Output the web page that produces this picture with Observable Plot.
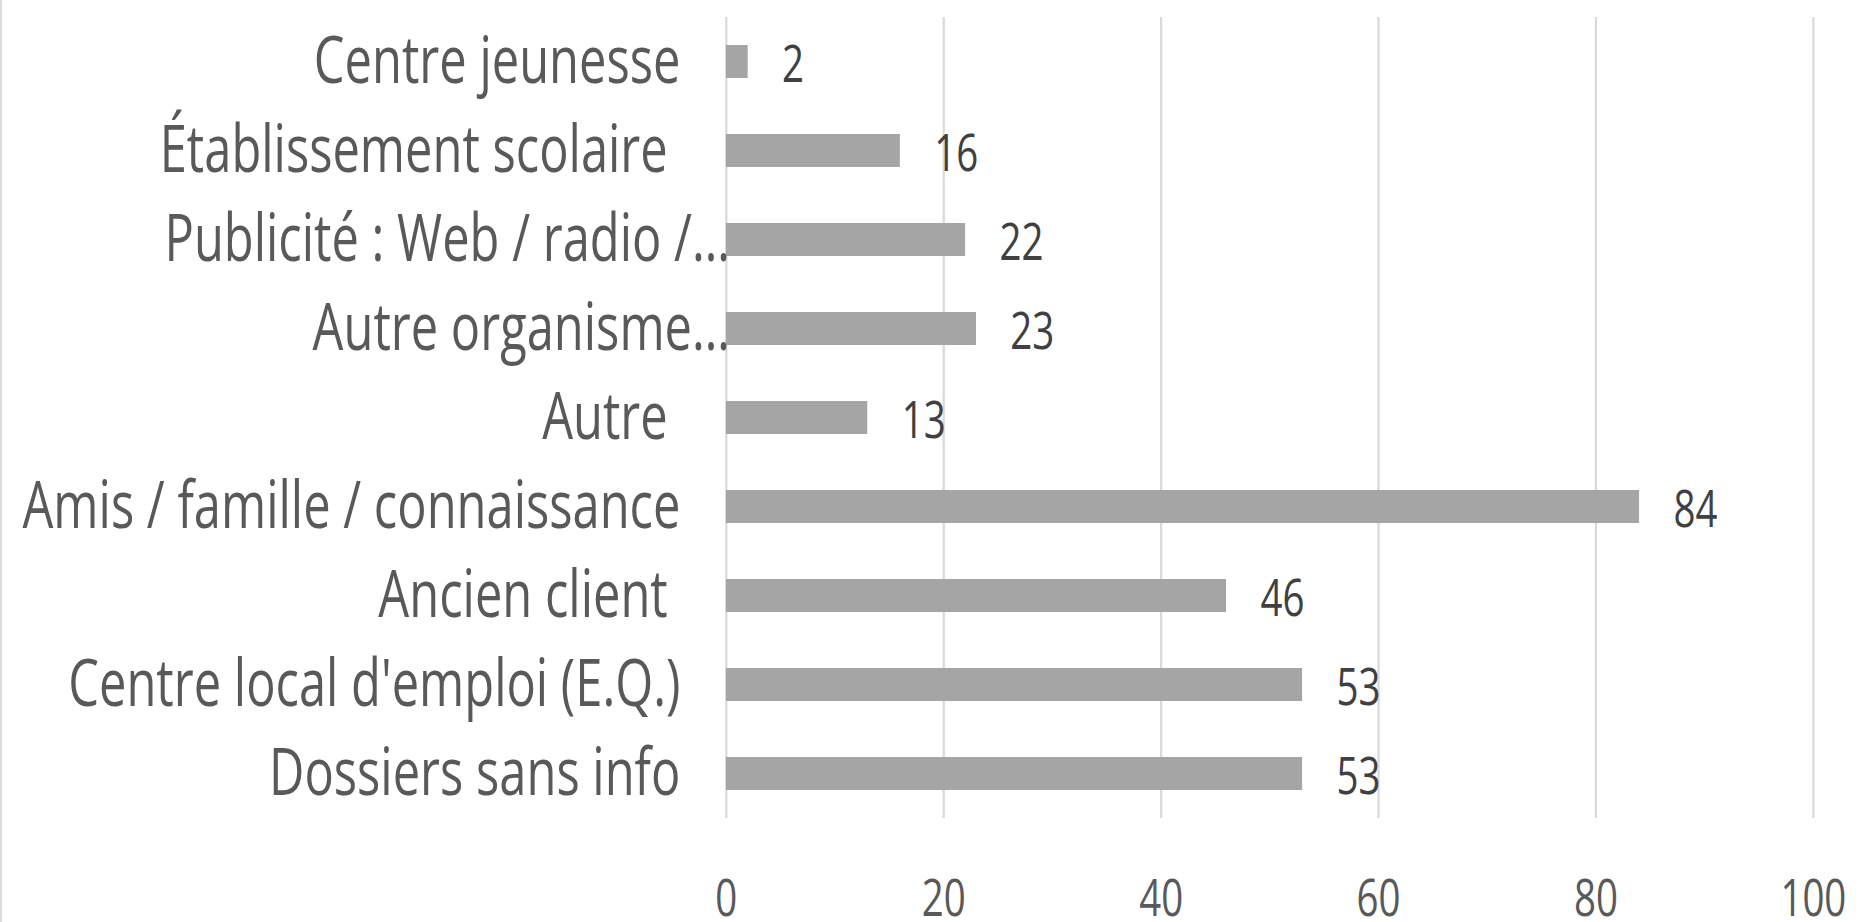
<!DOCTYPE html>
<html>
<head>
<meta charset="utf-8">
<script src="https://cdn.jsdelivr.net/npm/d3@7"></script>
<script src="https://cdn.jsdelivr.net/npm/@observablehq/plot@0.6"></script>
<style>
  html, body { margin: 0; padding: 0; background: #fff; overflow: hidden; }
  #wrap { position: relative; width: 1875px; height: 922px; overflow: hidden; }
  #chart { width: 4000px; }
  #chart svg { display: block; max-width: none !important; height: 922px !important; transform: scaleX(0.74); transform-origin: 0 0; }
  #chart svg text { white-space: pre; }
  #edge { position: absolute; left: 0; top: 0; width: 2px; height: 922px; background: #dcdcdc; }
</style>
</head>
<body>
<div id="wrap"><div id="chart"></div><div id="edge"></div></div>
<script>
// Data (top to bottom, as in the reference)
const categories = [
  "Centre jeunesse",
  "Établissement scolaire",
  "Publicité : Web / radio /…",
  "Autre organisme…",
  "Autre",
  "Amis / famille / connaissance",
  "Ancien client",
  "Centre local d'emploi (E.Q.)",
  "Dossiers sans info"
];
const labels = [
  "Centre jeunesse",
  "Établissement scolaire ",
  "Publicité : Web / radio /…",
  "Autre organisme…",
  "Autre ",
  "Amis / famille / connaissance",
  "Ancien client ",
  "Centre local d'emploi (E.Q.)",
  "Dossiers sans info"
];
const values = [2, 16, 22, 23, 13, 84, 46, 53, 53];
const tickValues = [0, 20, 40, 60, 80, 100];

const data = categories.map((c, i) => ({category: c, label: labels[i], value: values[i]}));
const truncated = data.filter(d => d.label.endsWith("…"));
const normal = data.filter(d => !d.label.endsWith("…"));

const S = 0.74;              // horizontal squeeze of the whole drawing
const W = Math.round(1875 / S);

const chart = Plot.plot({
  width: W,
  height: 922,
  marginLeft: Math.round(726 / S),
  marginRight: W - Math.round(1813 / S),
  marginTop: 17,
  marginBottom: 104,
  style: {fontFamily: "'Open Sans', sans-serif", background: "white"},
  x: {domain: [0, 100], axis: null},
  y: {domain: categories, axis: null, paddingInner: 0.63, paddingOuter: 0.315},
  marks: [
    Plot.ruleX(tickValues, {stroke: "#d9d9d9", strokeWidth: 3}),
    Plot.barX(data, {x: "value", y: "category", fill: "#a5a5a5"}),
    Plot.text(data, {x: "value", y: "category", text: d => String(d.value), textAnchor: "start", lineAnchor: "middle", dx: 46, dy: 3, fontSize: 52, fill: "#404040"}),
    Plot.text(normal, {y: "category", text: "label", frameAnchor: "left", textAnchor: "end", lineAnchor: "middle", dx: -62, fontSize: 66, fill: "#595959"}),
    Plot.text(truncated, {y: "category", text: "label", frameAnchor: "left", textAnchor: "end", lineAnchor: "middle", dx: 5, fontSize: 66, fill: "#595959"}),
    Plot.text(tickValues, {x: d => d, text: d => String(d), frameAnchor: "bottom", textAnchor: "middle", lineAnchor: "middle", dy: 81, fontSize: 52, fill: "#595959"})
  ]
});
chart.setAttribute("width", W);
chart.setAttribute("height", 922);
document.getElementById("chart").appendChild(chart);
</script>
</body>
</html>
